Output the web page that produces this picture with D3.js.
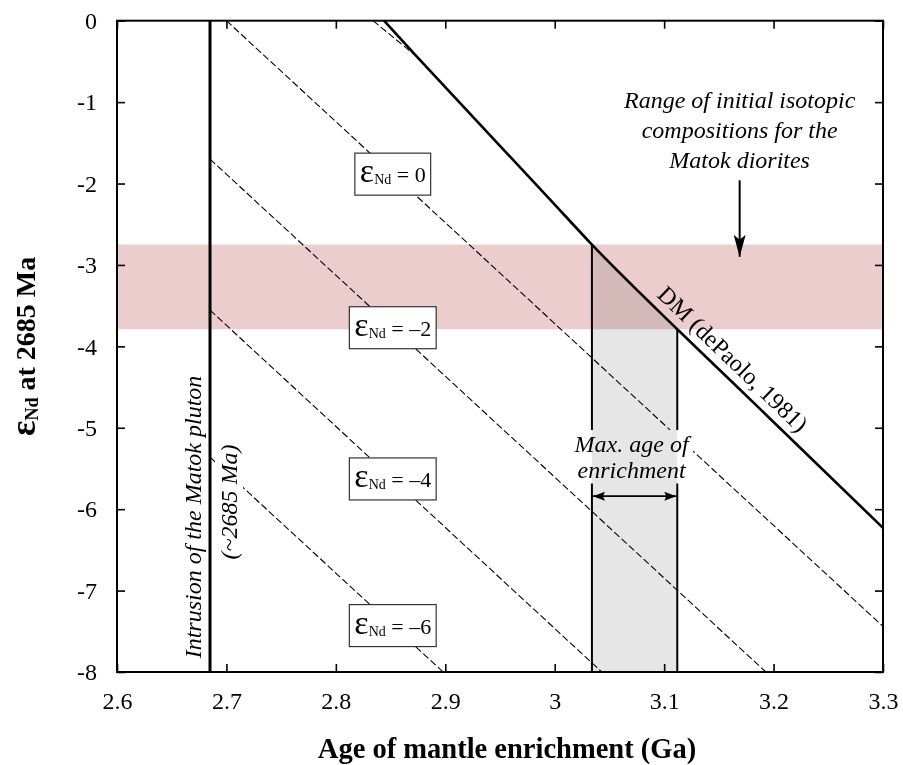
<!DOCTYPE html>
<html><head><meta charset="utf-8">
<script src="https://cdn.jsdelivr.net/npm/d3@7"></script>
<style>body{margin:0;background:#fff} svg text{font-family:"Liberation Serif","Times New Roman",serif !important;fill:#000}</style>
</head><body><svg id="c" width="903" height="765" font-family="Liberation Serif"></svg>
<script>
// ---- data ----
const xTicks = [2.6, 2.7, 2.8, 2.9, 3.0, 3.1, 3.2, 3.3];
const yTicks = [0, -1, -2, -3, -4, -5, -6, -7, -8];
const intrusionAge = 2.685;
const bandRange = [-2.75, -3.79];
const dmCurve = [[2.844, 0], [2.874, -0.44], [2.996, -2.2], [3.034, -2.75], [3.112, -3.79], [3.16, -4.41], [3.3, -6.23]];
const isoNames = ["+2", "0", "–2", "–4", "–6"];
const isoStart = [[2.834, 0], [2.7, 0], [2.685, -1.70], [2.685, -3.555], [2.685, -5.36]];
const isoEnd = [[2.872, -0.42], [3.3, -7.44], [3.193, -8], [3.043, -8], [2.898, -8]];
const labelledIso = ["0", "–2", "–4", "–6"];
const boxAge = 2.852;
const maxAgeRange = [3.034, 3.112];
const maxArrowY = -5.84;
const rangeArrow = {x: 3.169, y1: -1.96, y2: -2.9};
const rangeText = ["Range of initial isotopic", "compositions for the", "Matok diorites"];
const maxText = ["Max. age of", "enrichment"];

// ---- scales ----
const FF = '"Liberation Serif","Times New Roman",serif';
const svg = d3.select("#c");
const x = d3.scaleLinear().domain([2.6, 3.3]).range([117, 883]);
const y = d3.scaleLinear().domain([0, -8]).range([20.7, 672]);
const X0 = x.range()[0], X1 = x.range()[1], Y0 = y.range()[0], Y1 = y.range()[1];

const defs = svg.append("defs");
function marker(id, len, half, back) {
  defs.append("marker").attr("id", id).attr("markerUnits", "userSpaceOnUse")
    .attr("markerWidth", len + 2).attr("markerHeight", half * 2 + 2)
    .attr("refX", len).attr("refY", half + 1).attr("orient", "auto-start-reverse")
    .attr("viewBox", `0 0 ${len + 2} ${half * 2 + 2}`)
    .append("path").attr("d", `M0,1 L${len},${half + 1} L0,${half * 2 + 1} L${back},${half + 1}Z`).attr("fill", "#000");
}
marker("ah", 22, 6, 5);
marker("ah2", 12, 4.5, 2);
const mask = defs.append("mask").attr("id", "lm").attr("maskUnits", "userSpaceOnUse")
  .attr("x", 0).attr("y", 0).attr("width", 903).attr("height", 765);
mask.append("rect").attr("width", 903).attr("height", 765).attr("fill", "#fff");

// band
svg.append("rect").attr("x", X0).attr("width", X1 - X0)
  .attr("y", y(bandRange[0])).attr("height", y(bandRange[1]) - y(bandRange[0]))
  .attr("fill", "#eacdcc");

// grey max-age region
const dmInRange = dmCurve.filter(d => d[0] >= maxAgeRange[0] && d[0] <= maxAgeRange[1]);
const greyPoly = [...dmInRange, [maxAgeRange[1], -8], [maxAgeRange[0], -8]];
svg.append("path").attr("d", d3.line().x(d => x(d[0])).y(d => y(d[1]))(greyPoly) + "Z")
  .attr("fill", "#e6e6e6").style("mix-blend-mode", "multiply");

// masked group
const mg = svg.append("g").attr("mask", "url(#lm)");
const line = d3.line().x(d => x(d[0])).y(d => y(d[1]));
isoNames.forEach((n, i) => {
  mg.append("path").attr("d", line([isoStart[i], isoEnd[i]]))
    .attr("fill", "none").attr("stroke", "#000").attr("stroke-width", 1.1).attr("stroke-dasharray", "7,3");
});
const dmAt = xv => {
  for (let i = 0; i < dmCurve.length - 1; i++) {
    const a = dmCurve[i], b = dmCurve[i + 1];
    if (xv >= a[0] && xv <= b[0]) return a[1] + (b[1] - a[1]) * (xv - a[0]) / (b[0] - a[0]);
  }
  return NaN;
};
maxAgeRange.forEach(a => {
  mg.append("line").attr("x1", x(a)).attr("x2", x(a)).attr("y1", y(dmAt(a))).attr("y2", Y1)
    .attr("stroke", "#000").attr("stroke-width", 2);
});

// DM curve
svg.append("path").attr("d", d3.line().x(d => x(d[0])).y(d => y(d[1])).curve(d3.curveMonotoneX)(dmCurve))
  .attr("fill", "none").attr("stroke", "#000").attr("stroke-width", 2.6);

// intrusion line
svg.append("line").attr("x1", x(intrusionAge)).attr("x2", x(intrusionAge)).attr("y1", Y0).attr("y2", Y1)
  .attr("stroke", "#000").attr("stroke-width", 3);

// frame + ticks
svg.append("rect").attr("x", X0).attr("y", Y0).attr("width", X1 - X0).attr("height", Y1 - Y0)
  .attr("fill", "none").attr("stroke", "#000").attr("stroke-width", 2);
const tl = 8;
const fmt = v => String(+v.toFixed(1));
function styleAxis(g) {
  g.attr("font-family", FF).attr("font-size", 24);
  g.select(".domain").remove();
  g.selectAll("line").attr("stroke-width", 1.6);
  g.selectAll("text").attr("font-family", FF).attr("font-size", 24);
}
svg.append("g").attr("transform", `translate(0,${Y1})`)
  .call(d3.axisBottom(x).tickValues(xTicks).tickSize(-tl).tickFormat(fmt).tickPadding(20)).call(styleAxis);
svg.append("g").attr("transform", `translate(0,${Y0})`)
  .call(d3.axisTop(x).tickValues(xTicks).tickSize(-tl).tickFormat("")).call(styleAxis);
svg.append("g").attr("transform", `translate(${X0},0)`)
  .call(d3.axisLeft(y).tickValues(yTicks).tickSize(-tl).tickFormat(d => d === 0 ? "0" : "-" + Math.abs(d)).tickPadding(20))
  .call(styleAxis);
svg.append("g").attr("transform", `translate(${X1},0)`)
  .call(d3.axisRight(y).tickValues(yTicks).tickSize(-tl).tickFormat("")).call(styleAxis);

// axis titles
svg.append("text").attr("x", (X0 + X1) / 2 + 7).attr("y", 758).attr("text-anchor", "middle")
  .attr("font-family", FF).attr("font-size", 28.5).attr("font-weight", "bold").text("Age of mantle enrichment (Ga)");
const yl = svg.append("text").attr("transform", `translate(35,${(Y0 + Y1) / 2}) rotate(-90)`)
  .attr("text-anchor", "middle").attr("font-family", FF).attr("font-weight", "bold").attr("font-size", 28);
yl.append("tspan").attr("font-size", 36).text("ε");
yl.append("tspan").attr("font-size", 18).attr("dy", 3).text("Nd");
yl.append("tspan").attr("dy", -3).text(" at 2685 Ma");

// epsilon boxes
labelledIso.forEach(n => {
  const i = isoNames.indexOf(n);
  const a = isoStart[i], b = isoEnd[i];
  const yv = a[1] + (b[1] - a[1]) * (boxAge - a[0]) / (b[0] - a[0]);
  const g = svg.append("g").attr("transform", `translate(${x(boxAge)},${y(yv)})`);
  const r = g.append("rect").attr("fill", "#fff").attr("stroke", "#333").attr("stroke-width", 1.2);
  const t = g.append("text").attr("text-anchor", "middle").attr("y", 8).attr("font-family", FF).attr("font-size", 22);
  t.append("tspan").attr("font-size", 34).text("ε");
  t.append("tspan").attr("font-size", 14).attr("dy", 2).text("Nd");
  t.append("tspan").attr("dy", -2).text(" = " + n);
  const bb = t.node().getBBox();
  r.attr("x", bb.x - 5).attr("width", bb.width + 10).attr("y", -21).attr("height", 42);
});

// intrusion labels
const xi = x(intrusionAge);
svg.append("text").attr("transform", `translate(${xi - 9},517) rotate(-90)`).attr("text-anchor", "middle")
  .attr("font-family", FF).attr("font-size", 24).attr("font-style", "italic").text("Intrusion of the Matok pluton");
const t2 = svg.append("text").attr("transform", `translate(${xi + 27},502) rotate(-90)`).attr("text-anchor", "middle")
  .attr("font-family", FF).attr("font-size", 24).attr("font-style", "italic").text("(~2685 Ma)");

// range label
rangeText.forEach((s, i) => {
  svg.append("text").attr("x", x(rangeArrow.x)).attr("y", 108 + 30 * i).attr("text-anchor", "middle")
    .attr("font-family", FF).attr("font-size", 24).attr("font-style", "italic").text(s);
});
svg.append("line").attr("x1", x(rangeArrow.x)).attr("x2", x(rangeArrow.x))
  .attr("y1", y(rangeArrow.y1)).attr("y2", y(rangeArrow.y2))
  .attr("stroke", "#000").attr("stroke-width", 2).attr("marker-end", "url(#ah)");

// max age label
const mx = x((maxAgeRange[0] + maxAgeRange[1]) / 2) - 3;
const mt = maxText.map((s, i) => svg.append("text").attr("x", mx).attr("y", 452 + 25.5 * i).attr("text-anchor", "middle")
  .attr("font-family", FF).attr("font-size", 24).attr("font-style", "italic").text(s));
svg.append("line").attr("x1", x(maxAgeRange[0]) + 1).attr("x2", x(maxAgeRange[1]) - 1)
  .attr("y1", y(maxArrowY)).attr("y2", y(maxArrowY))
  .attr("stroke", "#000").attr("stroke-width", 1.6)
  .attr("marker-start", "url(#ah2)").attr("marker-end", "url(#ah2)");

// DM label
const dmA = dmCurve[4], dmB = dmCurve[6];
const ang = Math.atan2(y(dmB[1]) - y(dmA[1]), x(dmB[0]) - x(dmA[0])) * 180 / Math.PI;
const lx = 3.152;
svg.append("text").attr("transform", `translate(${x(lx)},${y(dmAt(lx))}) rotate(${ang})`)
  .attr("text-anchor", "middle").attr("y", -9).attr("font-family", FF).attr("font-size", 24).text("DM (dePaolo, 1981)");

// masks from label extents
function addMask(nodes, pad) {
  let x0 = 1e9, y0 = 1e9, x1 = -1e9, y1 = -1e9;
  nodes.forEach(n => { const b = n.getBoundingClientRect();
    x0 = Math.min(x0, b.left); y0 = Math.min(y0, b.top); x1 = Math.max(x1, b.right); y1 = Math.max(y1, b.bottom); });
  mask.append("rect").attr("x", x0 - pad).attr("y", y0 - pad).attr("width", x1 - x0 + 2 * pad).attr("height", y1 - y0 + 2 * pad).attr("fill", "#000");
}
addMask(mt.map(t => t.node()), 1);
addMask([t2.node()], 1);
</script></body></html>
